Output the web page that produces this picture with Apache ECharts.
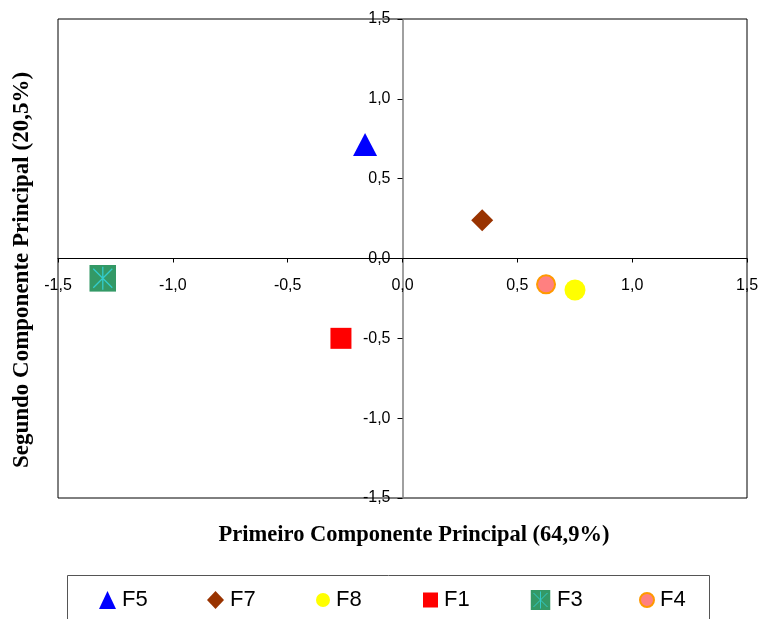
<!DOCTYPE html>
<html>
<head>
<meta charset="utf-8">
<script src="https://cdn.jsdelivr.net/npm/echarts@6/dist/echarts.min.js"></script>
<style>
  html, body { margin: 0; padding: 0; background: #fff; }
  #chart { width: 762px; height: 619px; }
</style>
</head>
<body>
<div id="chart"></div>
<script>
// PCA scores of the six samples (PC1, PC2)
const names = ['F5', 'F7', 'F8', 'F1', 'F3', 'F4'];
const pc1 = [-0.163, 0.347, 0.751, -0.268, -1.305, 0.625];
const pc2 = [0.714, 0.239, -0.197, -0.500, -0.124, -0.162];

const xTitle = 'Primeiro Componente Principal (64,9%)';
const yTitle = 'Segundo Componente Principal (20,5%)';

// green square with a cyan asterisk for F3
const starSvg = "<svg xmlns='http://www.w3.org/2000/svg' width='27' height='27' viewBox='0 0 27 27'>" +
  "<rect width='27' height='27' fill='#339966'/>" +
  "<path d='M13.5 2V25M4 4L23 23M23 4L4 23' stroke='#33cccc' stroke-width='1.3' fill='none'/></svg>";
const starSymbol = 'image://data:image/svg+xml;charset=utf-8,' + encodeURIComponent(starSvg);

const styles = {
  F5: { symbol: 'triangle', size: [24, 23], itemStyle: { color: '#0000ff' } },
  F7: { symbol: 'diamond', size: [22, 22], itemStyle: { color: '#993300' } },
  F8: { symbol: 'circle', size: 21, itemStyle: { color: '#ffff00' } },
  F1: { symbol: 'rect', size: 21, itemStyle: { color: '#ff0000' } },
  F3: { symbol: starSymbol, size: 27, itemStyle: { color: '#339966' } },
  F4: { symbol: 'circle', size: 18, itemStyle: { color: '#ff8080', borderColor: '#ff9900', borderWidth: 2 } }
};

const legendLeft = [99, 207, 316, 423, 530, 639];
const legendIcon = {
  F5: { w: 17, h: 18 }, F7: { w: 17, h: 18 }, F8: { w: 14, h: 15 },
  F1: { w: 15, h: 15 }, F3: { w: 21, h: 20 }, F4: { w: 14, h: 15 }
};

const fmt = v => v.toFixed(1).replace('.', ',');

// plot area in pixels; the axes cross at (0, 0), i.e. the middle of the grid
const gridBox = { left: 58, right: 15, top: 19, bottom: 121 };
const gridW = 762 - gridBox.left - gridBox.right;
const gridH = 619 - gridBox.top - gridBox.bottom;

const series = names.map((n, i) => ({
  name: n,
  type: 'scatter',
  symbol: styles[n].symbol,
  symbolSize: styles[n].size,
  itemStyle: Object.assign({ opacity: 1 }, styles[n].itemStyle),
  emphasis: { disabled: true },
  data: [[pc1[i], pc2[i]]],
  z: 3
}));

const legends = names.map((n, i) => ({
  data: [n],
  left: legendLeft[i],
  top: 589,
  itemWidth: legendIcon[n].w,
  itemHeight: legendIcon[n].h,
  itemGap: 0,
  padding: 0,
  selectedMode: false,
  itemStyle: { opacity: 1 },
  textStyle: { fontFamily: 'Liberation Sans', fontSize: 22, color: '#000', padding: [0, 0, 0, 1] }
}));

const chart = echarts.init(document.getElementById('chart'), null, { renderer: 'canvas' });
chart.setOption({
  animation: false,
  backgroundColor: '#fff',
  grid: Object.assign({ show: true, borderColor: '#000', borderWidth: 1 }, gridBox),
  xAxis: {
    type: 'value', min: -1.5, max: 1.5, interval: 0.5,
    position: 'bottom', offset: -gridH / 2,
    axisLine: { onZero: false, lineStyle: { color: '#000', width: 1 } },
    axisTick: { show: true, length: 4, lineStyle: { color: '#000' } },
    axisLabel: { formatter: fmt, margin: 19, fontFamily: 'Liberation Sans', fontSize: 16, color: '#000' },
    splitLine: { show: false }
  },
  yAxis: {
    type: 'value', min: -1.5, max: 1.5, interval: 0.5,
    position: 'left', offset: -gridW / 2,
    axisLine: { onZero: false, lineStyle: { color: '#808080', width: 1.5 } },
    axisTick: { show: true, length: 5, lineStyle: { color: '#000' } },
    axisLabel: { formatter: fmt, margin: 12, fontFamily: 'Liberation Sans', fontSize: 16, color: '#000' },
    splitLine: { show: false }
  },
  legend: legends,
  graphic: [
    { type: 'rect', shape: { x: 67.5, y: 575.5, width: 642, height: 60 },
      style: { fill: 'none', stroke: '#555', lineWidth: 1 }, z: 0 },
    { type: 'text', x: 414, y: 535,
      style: { text: xTitle, font: 'bold 22.5px "Liberation Serif"', fill: '#000', align: 'center', verticalAlign: 'middle' } },
    { type: 'text', x: 22, y: 270, rotation: Math.PI / 2,
      style: { text: yTitle, font: 'bold 23px "Liberation Serif"', fill: '#000', align: 'center', verticalAlign: 'middle' } }
  ],
  series: series
});
</script>
</body>
</html>
